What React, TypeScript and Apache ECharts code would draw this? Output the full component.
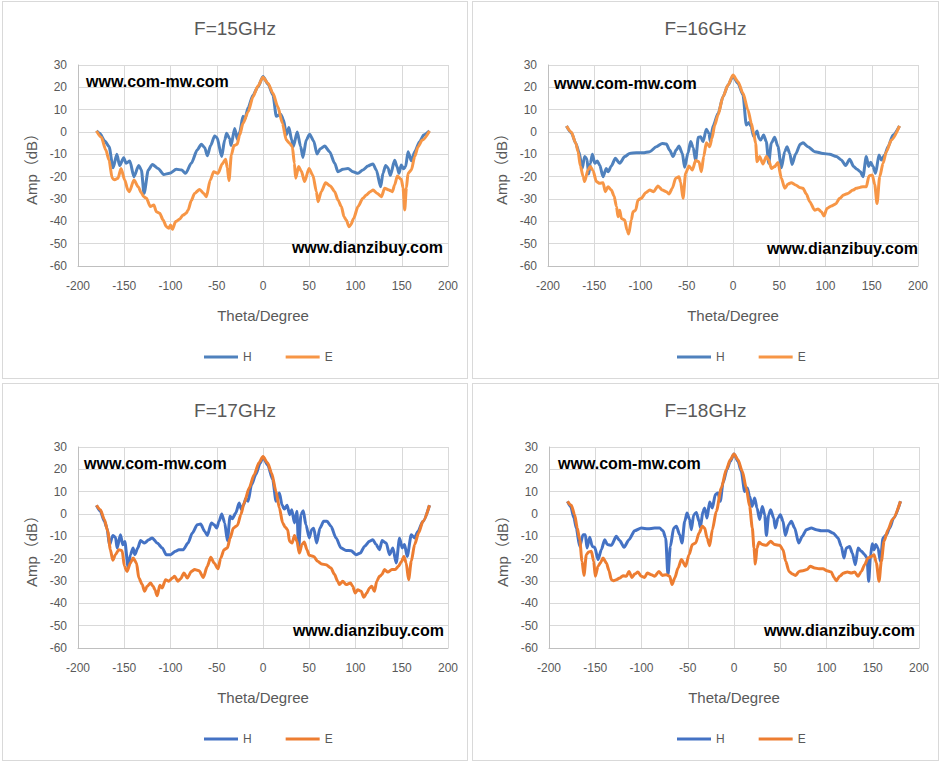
// 天线方向图 4 个频点
import { useEffect, useRef } from 'react'
import * as echarts from 'echarts'

const FONT = '"Liberation Sans", Arial, "Noto Sans CJK SC", sans-serif'

// [theta, amp] 从原图读取
const h15: [number, number][] = [
  [-180, 0.5], [-176.6, -0.6], [-171, -4], [-166.5, -6.5], [-162, -16], [-158, -10], [-155, -15], [-150.6, -11.5],
  [-148, -14], [-144, -13], [-139.5, -20], [-134.4, -15], [-131.5, -17], [-128.6, -27.5], [-124, -17], [-119.6, -14.5],
  [-113.5, -16.3], [-107.4, -19], [-101, -18.5], [-93.7, -16.7], [-88, -17], [-83.6, -18.5], [-77.5, -14], [-71, -8],
  [-66.7, -5.5], [-63, -7], [-60.2, -10.6], [-56.6, -6], [-52.3, -1.8], [-49.7, -2.5], [-44.7, -11], [-41.4, -3.5],
  [-39.3, -0.6], [-36, -3], [-34.6, -6], [-30.6, 1.6], [-27.7, -3.3], [-25.2, 0], [-21.6, 7], [-19.8, 5.6], [-16, 11],
  [-10.8, 16.5], [-5.4, 20.3], [0, 24.8], [5.4, 21.5], [10.8, 16.5], [14.4, 7], [19.1, 8], [22.3, 5.4], [25.2, -1.3],
  [28, 2], [31, -3.5], [32.8, -6.5], [37, 0], [40.7, -6.5], [43.2, -11.4], [46.8, -3.5], [50.4, -1], [54.8, -4],
  [58.4, -9.8], [62, -7.5], [66.7, -6.3], [72, -8.8], [77.5, -14], [81, -17.8], [86.5, -16.7], [91.9, -16.3],
  [97.3, -17.8], [102.7, -18.5], [108, -17], [113.5, -15.2], [118.9, -14.3], [122.5, -17], [127.2, -24.5],
  [129.7, -18.5], [132.6, -15], [135, -16], [137.7, -19.4], [142.3, -12.7], [144.9, -15.5], [147, -18.5],
  [149.5, -14.8], [152, -16.5], [154.2, -15.5], [156.8, -8.8], [160.4, -12.9], [164, -8.8], [169.4, -4.3],
  [173.7, -1.3], [180, 0.5],
]
const e15: [number, number][] = [
  [-180, 0.5], [-174.8, -2.4], [-170, -8], [-166.5, -12.5], [-163, -20.7], [-160.4, -21.4], [-156.8, -20.7],
  [-153.5, -16.3], [-149.5, -21.5], [-146, -26], [-144.5, -26.7], [-139.5, -21.5], [-135, -24.5], [-131.5, -27.2],
  [-129, -29], [-126, -29.7], [-121.8, -33.4], [-118, -32.7], [-115.3, -35.7], [-111.7, -36.4], [-108, -39.4],
  [-104.5, -42.4], [-101.6, -43.1], [-100, -41.6], [-98, -43.6], [-94.4, -40.1], [-90, -39], [-86.5, -37.2],
  [-83, -36.4], [-81, -35], [-77.5, -30.7], [-74, -27.5], [-68.5, -25.7], [-64.1, -27.5], [-61.3, -29], [-57, -21.5],
  [-53.3, -17.8], [-48.6, -18.5], [-44, -14.2], [-40.4, -12.2], [-38.6, -16], [-36.8, -21.8], [-34.2, -10.3],
  [-31.4, -6.1], [-28, -5.5], [-25.2, -1.3], [-21.6, 3.9], [-16, 9.1], [-10.8, 15.8], [-5.4, 20.6], [0, 24.5],
  [5.4, 21.8], [10.8, 17.3], [16, 11.3], [21, 3.9], [25.2, -3.6], [28.8, -5.1], [31.7, -6.6], [33.9, -14],
  [35.3, -20.7], [38.5, -15.5], [41.4, -17.5], [45, -22.2], [49.7, -16.3], [54, -19.5], [57.7, -26.7], [59.5, -31.2],
  [63, -26.7], [67.7, -22.7], [72.8, -24.2], [77.5, -26.7], [81, -30.4], [84.7, -33.4], [87.6, -37.9], [90, -39.4],
  [93, -42.4], [95, -41.5], [98, -38.7], [102.7, -33.4], [108, -29.7], [111.7, -28.2], [116, -26.7], [119, -26],
  [123.6, -27.5], [128, -29], [131.5, -25.2], [136.2, -26], [139.8, -26.7], [142.3, -23.7], [145.2, -19.7],
  [149.5, -21.2], [151.4, -25], [153.2, -34.9], [155, -25], [156.8, -18.5], [160.4, -17], [164, -11], [167.6, -6.6],
  [172.3, -3.6], [180, 0.5],
]

const h16: [number, number][] = [
  [-180, 2.7], [-174.8, -0.3], [-170, -5], [-166.5, -9], [-163, -16.3], [-160.4, -11], [-158, -12], [-156, -18.8],
  [-154.2, -14], [-152, -10], [-149.5, -14], [-146.7, -13], [-144.1, -14.8], [-140.5, -20], [-137, -16.3],
  [-135, -17.8], [-131.5, -15.2], [-127.2, -11.8], [-122.5, -14], [-117, -11], [-111.7, -9.6], [-104.5, -9.3],
  [-97.3, -9.3], [-90, -8.8], [-82.9, -6.6], [-76.4, -5.1], [-72, -5.4], [-68.5, -8.1], [-64.9, -11], [-61.3, -8],
  [-58.4, -6.3], [-54.8, -9.5], [-52.3, -15.8], [-48.6, -9.3], [-45.8, -4.3], [-43, -7], [-40.4, -12.8],
  [-37.5, -2.4], [-35, -2.1], [-32.4, -4.3], [-28.8, 1.2], [-26, -0.6], [-24.5, -4.3], [-21.6, 2.7], [-16, 8.4],
  [-10.8, 15.8], [-5.4, 21], [0, 25], [5.4, 21.8], [10.8, 16.6], [14.4, 3.1], [17.3, 4.2], [19.5, 2.5], [22.3, -2],
  [26, 0.4], [28.1, -2.8], [29.9, -3.6], [33.1, -1.3], [36, -4.3], [38.6, -14], [41.4, -5], [45, -2.4], [48.6, -6.5],
  [52.3, -16], [55.9, -8.8], [58.4, -6.6], [61.3, -9.5], [63.8, -14.5], [67.7, -9.9], [72.8, -5.4], [75.7, -4.8],
  [81, -6.6], [88.3, -8.8], [97.3, -9.6], [104.5, -10], [111.7, -11], [117.1, -12.5], [121.8, -15], [126.1, -12.2],
  [130.5, -15.5], [134.1, -16.7], [137.7, -17.8], [140.5, -20], [144.1, -11], [146.7, -15.5], [148.8, -13.5],
  [151.4, -15.5], [154.2, -18.5], [157.8, -10.3], [160.4, -12.5], [164, -10.3], [167.6, -6.6], [173, -1.3], [180, 2.7],
]
const e16: [number, number][] = [
  [-180, 2.7], [-174.8, 0], [-170, -5], [-167.5, -8.8], [-165, -15.2], [-162, -20], [-160.4, -22.2], [-156.8, -17],
  [-154.2, -15.5], [-151.3, -17.3], [-147.7, -22.2], [-144.1, -23], [-140.5, -22.7], [-138, -26.7], [-135.1, -24.5],
  [-131.5, -26], [-128.6, -28.7], [-126, -33.4], [-124.3, -37.9], [-122.5, -35], [-120.7, -38.7], [-117.1, -39.4],
  [-114.6, -43.9], [-112.8, -45.7], [-109.9, -39.4], [-108.1, -35.7], [-105.2, -35], [-102.7, -30.4],
  [-99.1, -29.7], [-94.4, -27.2], [-90, -26], [-85.8, -26.7], [-81.1, -24.2], [-76.4, -26], [-72, -26.7],
  [-69.2, -27.8], [-65.6, -25.2], [-62, -20.7], [-58.4, -20], [-56.6, -22.5], [-54, -29.7], [-51.2, -18.5],
  [-47.6, -15.2], [-44, -17], [-40.4, -12.8], [-36.8, -13.3], [-34.2, -17.8], [-31.7, -11], [-28.8, -4.8],
  [-25.2, -6.6], [-22.7, -2.8], [-19.8, 3], [-16.2, 7.6], [-10.8, 15.8], [-5.4, 21], [0, 25.5], [5.4, 22.5],
  [10.8, 17.3], [16.2, 9.9], [19.8, 3.9], [22.3, -0.6], [24.5, -5.1], [26, -13.3], [28.8, -11], [32.4, -14.3],
  [36, -11], [38.6, -12.5], [41.4, -16.3], [45, -15.5], [48.6, -13.7], [52.3, -20.7], [55.9, -25.2], [59.5, -23.3],
  [63, -22.7], [67.7, -23.7], [72, -24.8], [75.7, -25.2], [79.3, -27.8], [82.9, -31.2], [88.3, -35], [91.9, -34.5],
  [95.5, -35.7], [98.4, -37.6], [101.6, -34.2], [106.3, -33.1], [111, -32.2], [115.3, -29.7], [119.6, -28.2],
  [124.3, -27.5], [129.7, -26], [133.3, -25.2], [137, -24.8], [140.5, -24.5], [144.1, -24.5], [147, -19.7],
  [150.6, -19.2], [153.2, -23.5], [155.7, -32], [158.6, -20], [162.2, -14], [165.8, -8.8], [171.2, -3.6], [180, 2.7],
]

const h17: [number, number][] = [
  [-180, 3.9], [-175.8, 1.2], [-171.5, -3.3], [-168.6, -6.3], [-166, -14], [-162.4, -9.6], [-159.5, -10.4],
  [-157.7, -15.2], [-154.1, -9.3], [-151.6, -13.8], [-149.4, -12.3], [-145.8, -23.9], [-143.3, -18.2],
  [-140.4, -15.2], [-138.6, -18.2], [-135.3, -15.2], [-132.4, -11.9], [-128.1, -13], [-123.4, -11.5],
  [-119.8, -10.7], [-114.4, -13], [-108.9, -15.2], [-104.6, -18.2], [-99.9, -18.2], [-94.5, -16.7], [-90.9, -16],
  [-86.2, -16], [-81.1, -13], [-76.4, -8.5], [-71, -4.8], [-67.4, -4.5], [-63, -7.8], [-60.2, -9.6], [-55.8, -4],
  [-52.9, -4.8], [-50, -6.3], [-47.5, -3.3], [-44.6, 0], [-41.4, -4], [-38.5, -11.9], [-35.6, -1], [-33.1, -2.1],
  [-29.5, 0.4], [-25.8, 4.9], [-23.3, 1.9], [-21.1, 4], [-18.6, 6.9], [-16.1, 5.7], [-12.4, 13.1], [-7.8, 17.6],
  [-3.1, 22.8], [0, 25.4], [5, 22], [10.5, 15.4], [14.1, 5.7], [17.7, 9.4], [20.6, 4], [23.1, 2.2], [26, 3.9],
  [28.9, -0.3], [31.1, 1.9], [34, -4], [36.7, 1.2], [38.5, -16], [41, -0.3], [43.5, 1.5], [46.4, -4.8], [50, -10.7],
  [52.6, -7], [54.8, -6.4], [58, -13], [61.6, -6.3], [65.6, -3.3], [69.2, -3.3], [73.5, -5.5], [78.9, -10.7],
  [84.4, -15.2], [89.8, -16.3], [95.2, -16.4], [100.6, -18.2], [105.3, -17.5], [109.7, -14.5], [115.1, -12.2],
  [118.7, -11.5], [122.3, -13.7], [125.9, -16], [128.8, -11.9], [133.2, -13], [136.8, -18.2], [140.4, -15.2],
  [144, -21.9], [147.6, -10.9], [150.5, -15.2], [153, -13.7], [155.9, -19], [160.3, -9.3], [163.9, -10.7],
  [167.5, -7.8], [172.9, -3.3], [180, 3.9],
]
const e17: [number, number][] = [
  [-180, 3.9], [-175.8, 1.9], [-171.5, -2.5], [-167.8, -7.8], [-165, -16], [-162.4, -20.7], [-159.5, -18.2],
  [-155.9, -16], [-152.3, -16.4], [-149.8, -23.4], [-146.9, -25.7], [-143.3, -21.9], [-140.4, -19.7],
  [-136.8, -21.9], [-134.2, -28.7], [-130.6, -31.6], [-128.1, -34.6], [-125.2, -32.4], [-121.6, -30.9],
  [-118.7, -32.4], [-116.9, -33.9], [-114.4, -36.6], [-111.5, -31.9], [-109, -33.1], [-105.3, -29.4],
  [-101.7, -30.1], [-98.1, -28.7], [-95.6, -27.9], [-92, -30.1], [-89.1, -29], [-85.5, -26.4], [-81.8, -28.7],
  [-77.5, -25.7], [-73.9, -24.9], [-69.2, -25.4], [-64.5, -28.4], [-60.2, -23.4], [-56.5, -19.4], [-52.9, -21.9],
  [-48.6, -24.5], [-45.7, -19.7], [-42.1, -16], [-38.5, -15.2], [-35.6, -10.9], [-32, -6.3], [-27.6, -5.1],
  [-24, -0.3], [-20.4, 4.9], [-15, 11.6], [-9.6, 17.6], [-4.2, 23.1], [0, 25.7], [5, 22.8], [9.3, 18.4],
  [14.1, 10.1], [17.7, 2.7], [21.3, -4], [23.8, -5.8], [26.7, -7], [28.6, -12.2], [31.5, -13], [34, -9.6],
  [36.7, -12.2], [39.3, -17.5], [42.1, -13.7], [44.6, -12.5], [47.5, -16], [50, -18.5], [54.8, -19], [59.1, -21.2],
  [63.4, -22.4], [68.1, -22.7], [73.5, -24.2], [77.1, -26.9], [80.8, -30.1], [82.6, -31.6], [86.2, -30.1],
  [89.8, -31.6], [94.5, -30.9], [97, -32.4], [99.6, -35.4], [102.4, -33.9], [106.1, -34.6], [108.9, -37.3],
  [112.2, -35.4], [115.1, -33.1], [117.6, -32.4], [120.5, -34.6], [123, -30.1], [125.9, -27.9], [128.4, -27.2],
  [131.3, -24.9], [134.9, -26], [139.3, -24.9], [142.9, -24.9], [146.5, -23.4], [149.4, -21.5], [152.3, -19],
  [154.8, -21.9], [157.4, -29.4], [160.3, -21.2], [163.9, -13.7], [168.2, -8.5], [172.9, -3.3], [180, 3.9],
]

const h18: [number, number][] = [
  [-180, 5.7], [-176.6, 3.4], [-173, -1.8], [-170.5, -6.3], [-166.8, -14.5], [-163.2, -9.3], [-160.7, -9.3],
  [-158.9, -15.2], [-156, -10.4], [-153.2, -14.5], [-150.6, -14.9], [-147, -20.4], [-143.4, -16], [-139.8, -11.5],
  [-136.9, -13.7], [-132.6, -14], [-127.2, -10], [-123.6, -11.9], [-118.9, -14.9], [-113.5, -11.5], [-107.4, -7.5],
  [-100.2, -6.3], [-93, -6.6], [-85.8, -6.3], [-80.4, -6.3], [-76.8, -7.5], [-73.9, -10.7], [-71.4, -27.2],
  [-68.8, -14.5], [-65.2, -6.3], [-62.3, -5.5], [-58.7, -9.3], [-56.2, -13], [-53.3, -3.3], [-50.8, 0.4],
  [-47.9, -2.5], [-46.1, -7], [-43.6, -0.4], [-40.7, 0.7], [-37.8, -3.3], [-36.4, -6], [-33.5, 1.2], [-31.7, 2.7],
  [-29.2, -1.8], [-26.3, 5.4], [-23.4, 2.7], [-20.2, 8.7], [-17.3, 9.4], [-14.8, 5.7], [-11.9, 13.9], [-7.6, 19.9],
  [-4, 23.6], [0, 26.9], [4.3, 23.6], [7.9, 19.1], [11.5, 10.1], [14.4, 11.6], [16.9, 7.9], [19.5, 3.4],
  [22.3, 7.2], [24.9, 2.7], [27.7, -2.5], [30.6, 3.4], [33.2, -0.4], [35, -9.6], [37.5, -0.4], [39.6, 1.9],
  [42.9, -1.8], [44.7, -6.3], [47.6, -1.8], [50.1, -0.3], [53, -3.3], [55.5, -9.6], [59.1, -4.8], [62, -3.3],
  [65.6, -6.3], [69.9, -13], [73.9, -10], [78.2, -7], [83.6, -6.3], [89, -7], [94.4, -7.5], [101.6, -7.5],
  [107, -8.5], [112.4, -10.7], [116, -14.5], [118.9, -19.7], [121.4, -15.2], [125, -14.5], [127.9, -17.5],
  [131.2, -22.7], [134.1, -15.2], [137.7, -16.7], [141.3, -18.2], [143.8, -19.7], [145.6, -30.1], [147.7, -18.2],
  [149.5, -13.3], [151.4, -16], [153.2, -13.7], [155.7, -15.2], [158.2, -21.2], [161.1, -10.7], [164.7, -9.3],
  [168.3, -6.3], [172.6, -1.8], [180, 5.7],
]
const e18: [number, number][] = [
  [-180, 5.7], [-175.9, 3.9], [-172.3, -0.3], [-169.4, -6.3], [-166.8, -11.5], [-164.3, -21.2], [-162.2, -27.5],
  [-159.6, -18.2], [-157.1, -17], [-154.2, -16.7], [-151.7, -21.2], [-149.9, -27.9], [-147, -23.4], [-144.5, -21.9],
  [-141.6, -19.7], [-138, -21.9], [-135.1, -25.4], [-132.6, -29.4], [-130.1, -29.9], [-127.2, -29.4],
  [-123.6, -28.7], [-120, -27.6], [-116.4, -27.9], [-113.5, -25.7], [-110.3, -28.4], [-107.4, -26.9], [-103.8, -26],
  [-100.2, -27.9], [-96.6, -28.4], [-93.7, -26.4], [-89.4, -27.2], [-85.8, -27.9], [-81.1, -25.7], [-77.5, -27.5],
  [-73.2, -27.2], [-69.5, -27.9], [-67, -31.6], [-64.1, -28.7], [-60.5, -24.2], [-56.9, -20.4], [-52.3, -23.4],
  [-48.6, -18.2], [-45, -13.7], [-41.4, -13], [-37.8, -8.5], [-34.2, -5.5], [-31.7, -6.3], [-29.2, -10.7],
  [-26.3, -14.2], [-23.4, -7], [-19.1, 1.2], [-13.7, 11.6], [-8.3, 19.9], [-4, 24.3], [0, 26.9], [4.3, 24.3],
  [9, 19.1], [13.3, 11.6], [16.9, 3.4], [19.8, -6.3], [21.6, -15.2], [23.1, -22.4], [24.9, -15.2], [27, -12.7],
  [30.6, -13.7], [35, -14], [39.6, -12.2], [44, -13.7], [49.4, -14], [53, -16], [55.9, -21.2], [59.5, -25.7],
  [63.1, -26.9], [66.7, -27.5], [70.3, -25.7], [74.6, -25.4], [78.9, -24.9], [82.5, -23.4], [87.2, -24.2],
  [91.9, -24.5], [96.2, -24.5], [100.5, -25.4], [105.2, -26], [108.1, -28.4], [110.6, -29.9], [114.2, -27.9],
  [118.6, -26.4], [122.5, -26], [126.8, -26.4], [130.5, -26], [134.1, -27.9], [137.7, -25.7], [141.3, -22.7],
  [144.9, -19.7], [148.5, -19], [151.4, -18.2], [153.9, -21.9], [156.8, -30.1], [159.3, -21.2], [162.2, -12.2],
  [166.5, -7], [171.2, -2.5], [180, 5.7],
]

interface Panel {
  title: string
  h: [number, number][]
  e: [number, number][]
  hColor: string
  eColor: string
  left: number
  top: number
  width: number
  gridLeft: number
  legendLeft: number
  mark1: [number, number]
  mark2: [number, number]
}

const panels: Panel[] = [
  { title: 'F=15GHz', h: h15, e: e15, hColor: '#4F81BD', eColor: '#F79646', left: 2, top: 1, width: 466, gridLeft: 75, legendLeft: 196, mark1: [83, 79], mark2: [440, 245] },
  { title: 'F=16GHz', h: h16, e: e16, hColor: '#4F81BD', eColor: '#F79646', left: 472, top: 1, width: 467, gridLeft: 75, legendLeft: 199, mark1: [81, 81], mark2: [445, 246] },
  { title: 'F=17GHz', h: h17, e: e17, hColor: '#4472C4', eColor: '#ED7D31', left: 2, top: 383, width: 466, gridLeft: 75, legendLeft: 196, mark1: [81, 79], mark2: [441, 246] },
  { title: 'F=18GHz', h: h18, e: e18, hColor: '#4472C4', eColor: '#ED7D31', left: 472, top: 383, width: 467, gridLeft: 76, legendLeft: 199, mark1: [85, 79], mark2: [442, 246] },
]

function PatternChart({ p }: { p: Panel }) {
  const chartRef = useRef<HTMLDivElement>(null)

  useEffect(() => {
    if (!chartRef.current) return
    const chart = echarts.init(chartRef.current, null, { renderer: 'svg' })

    const line = (name: string, data: [number, number][], color: string) => ({
      name,
      type: 'line',
      data,
      showSymbol: false,
      symbol: 'none',
      smooth: 0.25,
      smoothMonotone: 'x',
      lineStyle: { color, width: 3 },
      itemStyle: { color },
    })

    chart.setOption({
      animation: false,
      textStyle: { fontFamily: FONT },
      title: {
        text: p.title,
        left: 'center',
        top: 12,
        textStyle: { fontSize: 19, fontWeight: 'normal', color: '#595959', fontFamily: FONT },
      },
      grid: { left: p.gridLeft, top: 63, width: 370, height: 201 },
      legend: {
        data: ['H', 'E'],
        left: p.legendLeft,
        top: 344,
        icon: 'rect',
        itemWidth: 34,
        itemHeight: 3,
        itemGap: 34,
        textStyle: { fontSize: 12, color: '#595959', fontFamily: FONT },
      },
      xAxis: {
        type: 'value',
        min: -200,
        max: 200,
        interval: 50,
        name: 'Theta/Degree',
        nameLocation: 'middle',
        nameGap: 42,
        nameTextStyle: { fontSize: 15, color: '#595959', fontFamily: FONT },
        axisLine: { onZero: false, lineStyle: { color: '#bfbfbf' } },
        axisTick: { show: false },
        axisLabel: { fontSize: 12, color: '#595959', margin: 14 },
        splitLine: { lineStyle: { color: '#d9d9d9' } },
      },
      yAxis: {
        type: 'value',
        min: -60,
        max: 30,
        interval: 10,
        name: 'Amp（dB）',
        nameLocation: 'middle',
        nameGap: 37,
        nameTextStyle: { fontSize: 15, color: '#595959', fontFamily: FONT },
        axisLine: { show: true, onZero: false, lineStyle: { color: '#bfbfbf' } },
        axisTick: { show: false },
        axisLabel: { fontSize: 12, color: '#595959', margin: 11 },
        splitLine: { lineStyle: { color: '#d9d9d9' } },
      },
      graphic: [
        {
          type: 'text',
          x: p.mark1[0],
          y: p.mark1[1],
          z: 100,
          style: { text: 'www.com-mw.com', font: `bold 16px ${FONT}`, fill: '#000', align: 'left', verticalAlign: 'middle' },
        },
        {
          type: 'text',
          x: p.mark2[0],
          y: p.mark2[1],
          z: 100,
          style: { text: 'www.dianzibuy.com', font: `bold 16px ${FONT}`, fill: '#000', align: 'right', verticalAlign: 'middle' },
        },
      ],
      series: [line('H', p.h, p.hColor), line('E', p.e, p.eColor)],
    })

    return () => {
      chart.dispose()
    }
  }, [p])

  return (
    <div
      style={{
        position: 'absolute',
        left: p.left,
        top: p.top,
        width: p.width,
        height: 378,
        border: '1px solid #d9d9d9',
        boxSizing: 'border-box',
        background: '#fff',
      }}
    >
      <div ref={chartRef} style={{ width: '100%', height: '100%' }} />
    </div>
  )
}

export default function App() {
  return (
    <div style={{ position: 'absolute', left: 0, top: 0, width: 940, height: 762, background: '#fff' }}>
      {panels.map(p => (
        <PatternChart key={p.title} p={p} />
      ))}
    </div>
  )
}
